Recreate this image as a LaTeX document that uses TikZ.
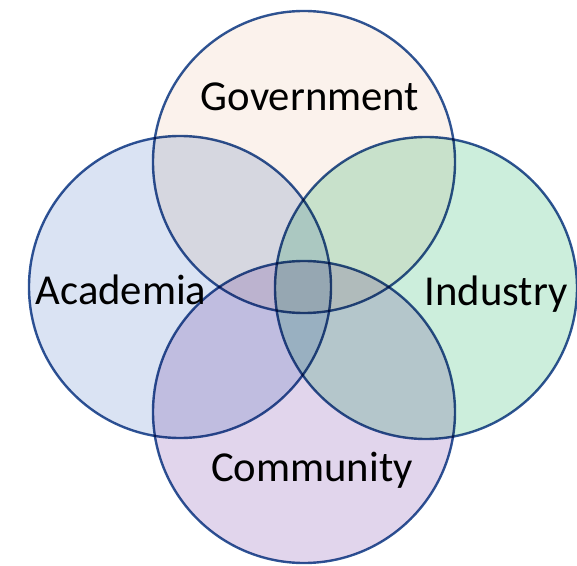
\documentclass[tikz,border=0pt]{standalone}
\usepackage{fontspec}
\setmainfont{Carlito}
\definecolor{govc}{RGB}{251,242,236}
\definecolor{acac}{RGB}{218,227,243}
\definecolor{indc}{RGB}{204,238,220}
\definecolor{comc}{RGB}{225,213,236}
\definecolor{edgec}{RGB}{47,85,151}
\begin{document}
\begin{tikzpicture}[x=0.75pt,y=-0.75pt,
  venn/.style={circle,inner sep=0pt,minimum size=226.5pt,draw=edgec,line width=1.8pt,blend mode=multiply},
  lbl/.style={font=\fontsize{32}{38}\selectfont,inner sep=0pt,text=black}]
\useasboundingbox (0,0) rectangle (577,566);
\node[venn,fill=govc] (gov) at (304,162) {};
\node[venn,fill=acac] (aca) at (180,287) {};
\node[venn,fill=indc] (ind) at (426,288) {};
\node[venn,fill=comc] (com) at (304,412) {};
\node[lbl] (govl) at (310,97) {Government};
\node[lbl] (acal) at (121,290) {Academia};
\node[lbl] (indl) at (496,294) {Industry};
\node[lbl] (coml) at (312,470) {Community};
\end{tikzpicture}
\end{document}
